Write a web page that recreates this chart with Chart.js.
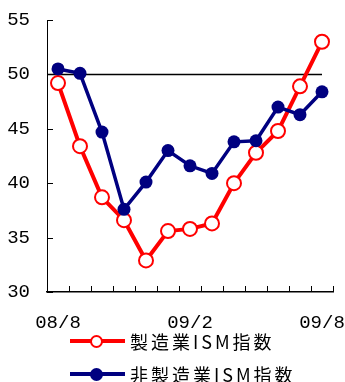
<!DOCTYPE html>
<html>
<head>
<meta charset="utf-8">
<script src="https://cdn.jsdelivr.net/npm/chart.js@4/dist/chart.umd.min.js"></script>
<style>
  html, body { margin: 0; padding: 0; background: #fff; }
  #wrap { position: relative; width: 345px; height: 382px; overflow: hidden; }
  #box { position: absolute; left: 0; top: 0; width: 345px; height: 335px; }
  .leg { position: absolute; left: 70px; height: 20px; display: flex; align-items: center; }
  .leg .mark { position: relative; width: 55px; height: 20px; }
  .leg .ln { position: absolute; left: 0; top: 8px; width: 55px; height: 4px; }
  .leg .dot { position: absolute; left: 20px; top: 3.5px; width: 13px; height: 13px; border-radius: 50%; box-sizing: border-box; }
  .leg .txt { margin-left: 5px; font-family: "Noto Sans CJK JP", sans-serif; font-size: 18px; letter-spacing: 3px; color: #000; line-height: 20px; }
</style>
</head>
<body>
<div id="wrap">
  <div id="box"><canvas id="c"></canvas></div>
  <div class="leg" style="top:331px">
    <div class="mark"><div class="ln" style="background:#ff0000"></div><div class="dot" style="background:#fff;border:2px solid #ff0000"></div></div>
    <div class="txt">製造業ISM指数</div>
  </div>
  <div class="leg" style="top:364px">
    <div class="mark"><div class="ln" style="background:#000080"></div><div class="dot" style="background:#000080"></div></div>
    <div class="txt">非製造業ISM指数</div>
  </div>
</div>
<script>
// Monthly categories, Aug 2008 – Aug 2009
const months = ['08/8','08/9','08/10','08/11','08/12','09/1','09/2','09/3','09/4','09/5','09/6','09/7','09/8'];
// Manufacturing ISM index
const manufacturing = [49.2, 43.4, 38.7, 36.6, 32.9, 35.6, 35.8, 36.3, 40.0, 42.8, 44.8, 48.9, 53.0];
// Non-manufacturing ISM index
const nonManufacturing = [50.5, 50.1, 44.7, 37.6, 40.1, 43.0, 41.6, 40.9, 43.8, 43.9, 47.0, 46.3, 48.4];
// Boom/bust threshold line
const threshold = 50;
// Y axis range
const yMin = 30, yMax = 55, yStep = 5;

const tickFont = { family: '"Liberation Mono", monospace', size: 19 };

// Threshold line and inward tick marks
const axisDecor = {
  id: 'axisDecor',
  beforeDatasetsDraw(chart) {
    const { ctx, chartArea, scales: { x, y } } = chart;
    const yy = y.getPixelForValue(threshold);
    ctx.save();
    ctx.strokeStyle = '#000';
    ctx.lineWidth = 1.5;
    ctx.beginPath();
    ctx.moveTo(chartArea.left, yy);
    ctx.lineTo(x.getPixelForValue(months.length - 1), yy);
    ctx.stroke();
    ctx.restore();
  },
  afterDraw(chart) {
    const { ctx, chartArea, scales: { x, y } } = chart;
    ctx.save();
    ctx.strokeStyle = '#000';
    ctx.lineWidth = 1;
    ctx.beginPath();
    for (let v = yMin; v <= yMax; v += yStep) {
      const p = Math.round(y.getPixelForValue(v)) + 0.5;
      ctx.moveTo(chartArea.left, p);
      ctx.lineTo(chartArea.left + 6, p);
    }
    for (let i = 1; i <= months.length; i++) {
      const p = i < months.length
        ? (x.getPixelForValue(i - 1) + x.getPixelForValue(i)) / 2
        : chartArea.right;
      const px = Math.round(p) + 0.5;
      ctx.moveTo(px, chartArea.bottom);
      ctx.lineTo(px, chartArea.bottom - 6);
    }
    ctx.stroke();
    ctx.restore();
  }
};

new Chart(document.getElementById('c'), {
  type: 'line',
  data: {
    labels: months,
    datasets: [
      {
        label: '非製造業ISM指数',
        data: nonManufacturing,
        borderColor: '#000080',
        backgroundColor: '#000080',
        borderWidth: 3.5,
        pointRadius: 6.5,
        pointBorderWidth: 0,
        pointBackgroundColor: '#000080',
        tension: 0
      },
      {
        label: '製造業ISM指数',
        data: manufacturing,
        borderColor: '#ff0000',
        backgroundColor: '#ffffff',
        borderWidth: 4,
        pointRadius: 7,
        pointBorderWidth: 2,
        pointBorderColor: '#ff0000',
        pointBackgroundColor: '#ffffff',
        tension: 0
      }
    ]
  },
  options: {
    responsive: true,
    maintainAspectRatio: false,
    animation: false,
    layout: { padding: { top: 20, right: 12, left: 0, bottom: 0 } },
    plugins: { legend: { display: false }, tooltip: { enabled: false } },
    scales: {
      x: {
        type: 'category',
        offset: true,
        grid: { display: false, drawTicks: false, offset: true },
        border: { display: true, color: '#000', width: 1.5 },
        ticks: {
          autoSkip: false,
          maxRotation: 0,
          padding: 20,
          color: '#000',
          font: tickFont,
          callback(v, i) { return i % 6 === 0 ? months[i] : ''; }
        },
        afterFit(s) { s.height = 43; s.paddingLeft = 0; s.paddingRight = 0; }
      },
      y: {
        min: yMin,
        max: yMax,
        grid: { display: false, drawTicks: false },
        border: { display: true, color: '#000', width: 1 },
        ticks: { stepSize: yStep, padding: 17, color: '#000', font: tickFont },
        afterFit(s) { s.width = 47; s.paddingTop = 0; s.paddingBottom = 0; }
      }
    }
  },
  plugins: [axisDecor]
});
</script>
</body>
</html>
